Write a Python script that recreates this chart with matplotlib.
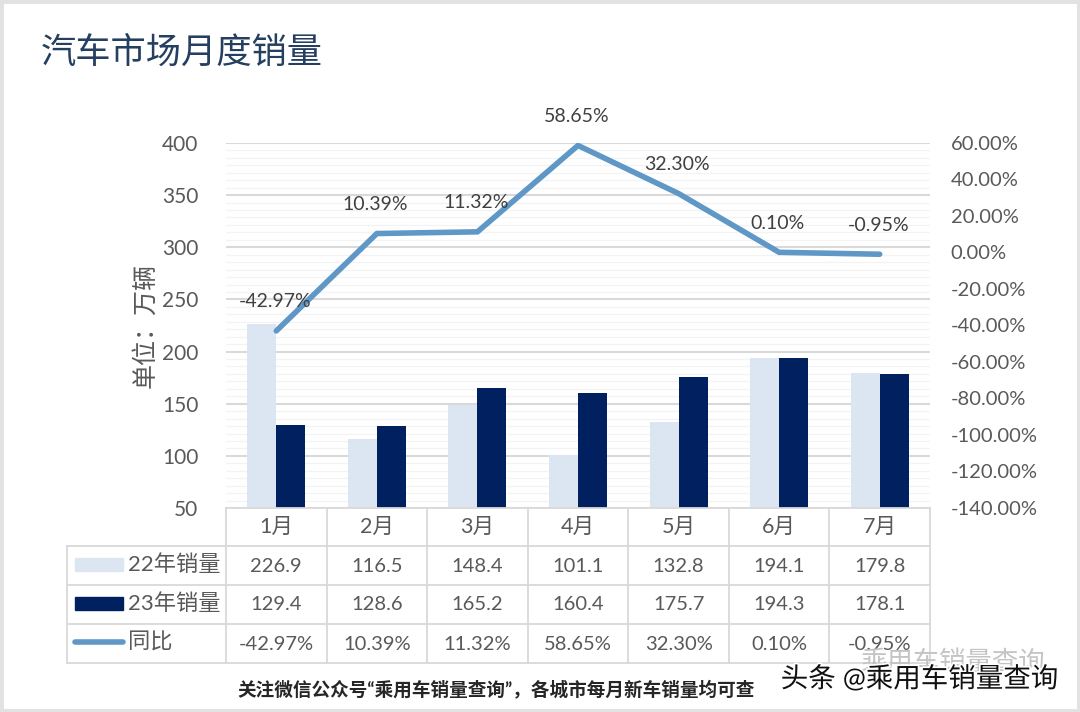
import matplotlib
matplotlib.use('Agg')
import matplotlib.pyplot as plt
import matplotlib.patheffects as pe
from matplotlib.patches import Rectangle
from matplotlib.ticker import AutoMinorLocator, FuncFormatter
import numpy as np

plt.rcParams['font.family'] = ['Lato', 'Noto Sans CJK SC', 'DejaVu Sans']

meses = ['1月', '2月', '3月', '4月', '5月', '6月', '7月']
ventas_22 = [226.9, 116.5, 148.4, 101.1, 132.8, 194.1, 179.8]
ventas_23 = [129.4, 128.6, 165.2, 160.4, 175.7, 194.3, 178.1]
yoy = [-42.97, 10.39, 11.32, 58.65, 32.30, 0.10, -0.95]
ticks_izq = [50, 100, 150, 200, 250, 300, 350, 400]
ticks_der = [-140, -120, -100, -80, -60, -40, -20, 0, 20, 40, 60]
filas = ['22年销量', '23年销量', '同比']

W, H = 1080, 712
C_22 = '#dce6f2'
C_23 = '#002060'
C_LINEA = '#5f97c6'
C_TEXTO = '#595959'
C_REJILLA = '#d9d9d9'


def caja(x0, y0, x1, y1):
    # pixeles de la imagen (y hacia abajo) a coordenadas de figura
    return [x0 / W, 1 - y1 / H, (x1 - x0) / W, (y1 - y0) / H]


fig = plt.figure(figsize=(W / 100, H / 100), dpi=100, facecolor='white')
fig.patches.append(Rectangle((0, 0), 1, 1, transform=fig.transFigure, fill=False,
                             edgecolor='#e2e2e2', linewidth=5))

# Grafica principal
ax = fig.add_axes(caja(226, 143, 930, 508))
x = np.arange(len(meses))
ax.bar(x - 0.144, ventas_22, width=0.288, color=C_22, zorder=3)
ax.bar(x + 0.144, ventas_23, width=0.288, color=C_23, zorder=3)
ax.set_xlim(-0.5, 6.5)
ax.set_ylim(50, 400)
ax.set_yticks(ticks_izq)
ax.yaxis.set_minor_locator(AutoMinorLocator(7))
ax.grid(True, axis='y', which='major', color=C_REJILLA, linewidth=1.5, zorder=0)
ax.grid(True, axis='y', which='minor', color='#f3f3f3', linewidth=0.9, zorder=0)
ax.set_xticks([])
ax.tick_params(axis='y', which='both', length=0, labelsize=15, labelcolor=C_TEXTO, pad=20)
for lado in ax.spines.values():
    lado.set_visible(False)
ax.set_axisbelow(True)

# Eje derecho con el porcentaje
ax2 = ax.twinx()
ax2.plot(x, yoy, color=C_LINEA, linewidth=4, solid_capstyle='round', solid_joinstyle='miter', zorder=4)
ax2.set_ylim(-140, 60)
ax2.set_yticks(ticks_der)
ax2.yaxis.set_major_formatter(FuncFormatter(lambda v, p: f'{v:.2f}%'))
ax2.tick_params(axis='y', length=0, labelsize=14.5, labelcolor=C_TEXTO, pad=15)
for lado in ax2.spines.values():
    lado.set_visible(False)
for i, v in enumerate(yoy):
    ax2.annotate(f'{v:.2f}%', (i, v), xytext=(-1, 21), textcoords='offset points',
                 ha='center', va='center', fontsize=14, color='#404040', zorder=5,
                 annotation_clip=False)

fig.text(145 / W, 1 - 326 / H, '单位：万辆', rotation=90, ha='center', va='center',
         fontsize=18, color=C_TEXTO)
fig.text(41 / W, 1 - 52 / H, '汽车市场月度销量', ha='left', va='center', fontsize=25.4, color='#243f60')

# Tabla de datos
tabla = fig.add_axes(caja(67, 508, 930, 663))
tabla.set_xlim(67, 930)
tabla.set_ylim(663, 508)
tabla.axis('off')
bordes_x = 226 + np.arange(8) * (930 - 226) / 7
bordes_y = [508, 546, 585, 624, 663]
for bx in bordes_x:
    tabla.plot([bx, bx], [508, 663], color=C_REJILLA, linewidth=1.3, clip_on=False)
tabla.plot([67, 67], [546, 663], color=C_REJILLA, linewidth=1.3, clip_on=False)
tabla.plot([226, 930], [508, 508], color=C_REJILLA, linewidth=1.3, clip_on=False)
for by in bordes_y[1:]:
    tabla.plot([67, 930], [by, by], color=C_REJILLA, linewidth=1.3, clip_on=False)

centros = (bordes_x[:-1] + bordes_x[1:]) / 2
for c, mes in zip(centros, meses):
    tabla.text(c, 527, mes, ha='center', va='center', fontsize=15.5, color=C_TEXTO)
valores_22 = [f'{v:.1f}' for v in ventas_22]
valores_23 = [f'{v:.1f}' for v in ventas_23]
valores_yoy = [f'{v:.2f}%' for v in yoy]
for yc, fila in zip([566, 605, 644], [valores_22, valores_23, valores_yoy]):
    for c, txt in zip(centros, fila):
        tabla.text(c, yc, txt, ha='center', va='center', fontsize=14.5, color=C_TEXTO)

# Leyenda dentro de la tabla
tabla.add_patch(Rectangle((75, 558), 48, 13, color=C_22))
tabla.add_patch(Rectangle((75, 597), 48, 13, color=C_23))
tabla.plot([75, 123], [642, 642], color=C_LINEA, linewidth=4, solid_capstyle='round')
for yc, nombre in zip([565, 604, 643], filas):
    tabla.text(128, yc, nombre, ha='left', va='center', fontsize=16, color=C_TEXTO)

fig.text(496 / W, 1 - 688.5 / H, '关注微信公众号“乘用车销量查询”，各城市每月新车销量均可查', ha='center', va='center',
         fontsize=13.4, fontweight='bold', color='#262626')

# Marcas de agua
fig.text(952 / W, 1 - 662 / H, '乘用车销量查询', ha='center', va='center', fontsize=19, color='#c4c4c4')
fig.text(919.5 / W, 1 - 679 / H, '头条 @乘用车销量查询', ha='center', va='center', fontsize=19.8, color='#111111',
         path_effects=[pe.withStroke(linewidth=2.5, foreground='white')])

fig.savefig('out.png', dpi=100)
plt.close(fig)
